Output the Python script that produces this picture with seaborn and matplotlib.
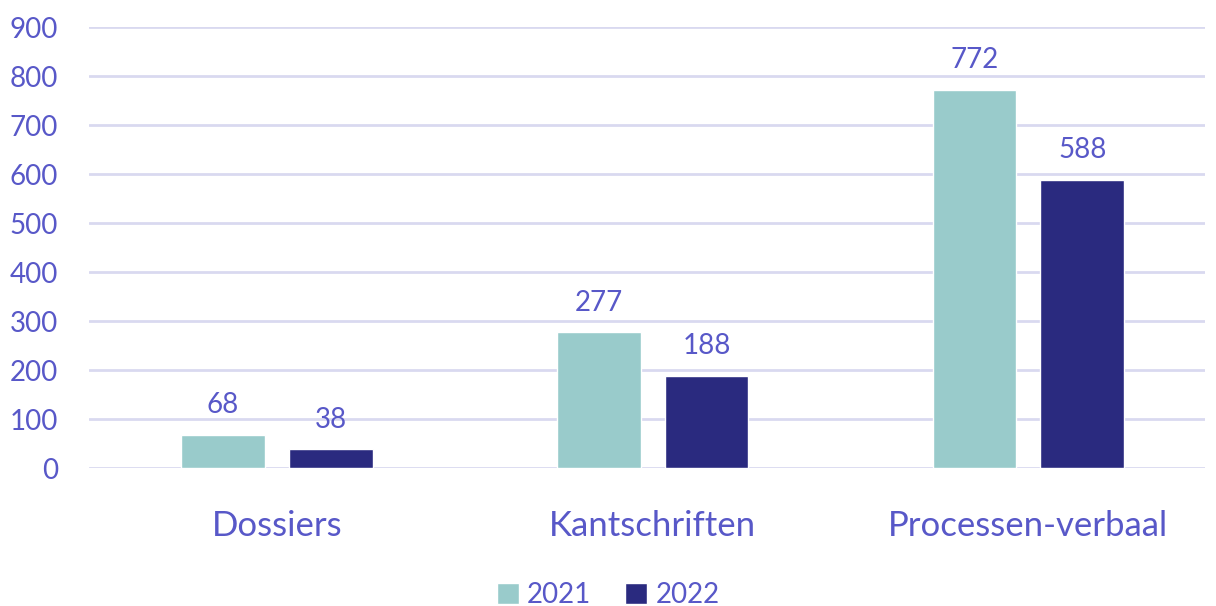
import matplotlib
matplotlib.use("Agg")
import matplotlib.pyplot as plt
import seaborn as sns
import pandas as pd

categories = ["Dossiers", "Kantschriften", "Processen-verbaal"]
years = ["2021", "2022"]
values_2021 = [68, 277, 772]
values_2022 = [38, 188, 588]
yticks = [0, 100, 200, 300, 400, 500, 600, 700, 800, 900]

df = pd.DataFrame({
    "categorie": categories * 2,
    "jaar": [years[0]] * 3 + [years[1]] * 3,
    "waarde": values_2021 + values_2022,
})

sns.set_theme(style="white")
plt.rcParams["font.family"] = ["Lato", "DejaVu Sans"]

text_col = "#5858c8"
grid_col = "#d9d9f0"
palette = {"2021": "#99cbcb", "2022": "#2a2a7f"}

fig = plt.figure(figsize=(12.16, 6.06), dpi=100)
ax = fig.add_axes([0.073, 0.2277, 0.918, 0.7277])
sns.barplot(data=df, x="categorie", y="waarde", hue="jaar", palette=palette,
            width=0.574, gap=0.222, saturation=1, ax=ax, legend=True)

ax.set_ylim(0, 900)
ax.set_xlim(-0.5, 2.47)
ax.set_yticks(yticks)
ax.set_yticklabels([str(t) for t in yticks], fontsize=20, color=text_col)
ax.tick_params(axis="x", labelsize=25, colors=text_col, pad=30, length=0)
ax.tick_params(axis="y", length=0, pad=22)
for lab in ax.get_xticklabels():
    lab.set_color(text_col)
ax.set_xlabel("")
ax.set_ylabel("")
ax.yaxis.grid(True, color=grid_col, linewidth=2)
ax.set_axisbelow(True)
for s in ax.spines.values():
    s.set_visible(False)

for cont in ax.containers:
    ax.bar_label(cont, fontsize=20, color=text_col, padding=12)

handles, labels = ax.get_legend_handles_labels()
ax.get_legend().remove()
fig.legend(handles, labels, loc="lower center", bbox_to_anchor=(0.5, -0.045), ncol=2,
           frameon=False, fontsize=20, labelcolor=text_col, handlelength=0.8,
           handleheight=0.8, handletextpad=0.3, columnspacing=1.2)

fig.savefig("out.png", dpi=100)
